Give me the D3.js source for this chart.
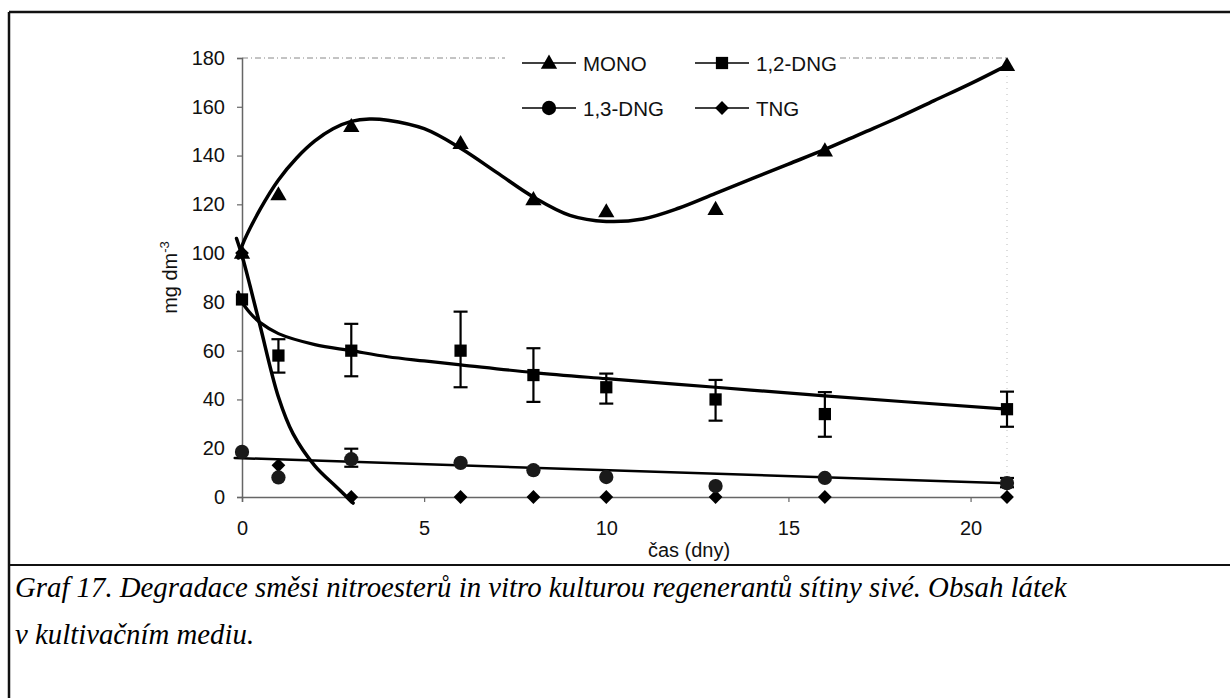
<!DOCTYPE html>
<html><head><meta charset="utf-8">
<script src="https://cdn.jsdelivr.net/npm/d3@7/dist/d3.min.js"></script>
<style>
html,body{margin:0;padding:0;background:#fff;}
svg{display:block;}
</style></head>
<body>
<svg id="chart" width="1230" height="698"></svg>
<script>
// ---- data ----
const days = [0, 1, 3, 6, 8, 10, 13, 16, 21];
const mono = [100, 124, 152, 145, 122, 117, 118, 142, 177];
const dng12 = [81, 58, 60, 60, 50, 45, 40, 34, 36];
const dng12Low = [null, 51, 49.5, 45, 39, 38.3, 31.3, 24.7, 28.8];
const dng12High = [null, 64.7, 71, 76, 61, 50.6, 48, 43, 43.2];
const dng13 = [18.5, 8, 15.5, 14, 11, 8.2, 4.5, 7.8, 5.7];
const dng13Low = [null, null, 12.4, null, null, null, null, null, 4];
const dng13High = [null, null, 19.8, null, null, null, null, null, 7.8];
const tng = [100, 13, 0, 0, 0, 0, 0, 0, 0];

// trend lines
const monoTrendX = [-0.1, 0, 0.5, 1, 1.5, 2, 2.5, 3, 3.5, 4, 5, 6, 7, 8, 9, 10, 11, 12, 13, 14, 15, 16, 17, 18, 19, 20, 21];
const monoTrendY = [98, 103, 118, 130, 139, 146, 151, 154, 155, 154.5, 151, 143, 133, 123, 115.5, 113, 114, 118.5, 124.5, 130.5, 136.5, 142.5, 149, 155.5, 162.5, 169.5, 177];
const dng12TrendX = [-0.1, 0, 0.25, 0.5, 1, 2, 3, 4, 5, 6, 8, 10, 13, 16, 21];
const dng12TrendY = [84, 80, 75, 71.5, 67, 62.5, 60, 57.5, 55.8, 54.2, 51, 48.5, 45, 41.5, 36];
const tngTrendX = [-0.15, 0, 0.22, 0.5, 1, 1.4, 2, 2.6, 3.05];
const tngTrendY = [106, 99, 86.6, 70, 41, 26, 12.8, 4, -2.5];
const dng13TrendX = [-0.2, 21];
const dng13TrendY = [16, 5.6];

const yTicks = [0, 20, 40, 60, 80, 100, 120, 140, 160, 180];
const xTicks = [0, 5, 10, 15, 20];
const legendNames = ["MONO", "1,2-DNG", "1,3-DNG", "TNG"];
const captionLines = [
  "Graf 17. Degradace směsi nitroesterů in vitro kulturou regenerantů sítiny sivé. Obsah látek",
  "v kultivačním mediu."
];

// ---- drawing ----
const svg = d3.select("#chart");
const sans = "'Liberation Sans', Arial, sans-serif";
const x = d3.scaleLinear().domain([0, 21]).range([242, 1007]);
const y = d3.scaleLinear().domain([0, 180]).range([497, 58]);

// outer frame
svg.append("line").attr("x1", 9).attr("x2", 1230).attr("y1", 12).attr("y2", 12).attr("stroke", "#111").attr("stroke-width", 2.5);
svg.append("line").attr("x1", 9).attr("x2", 9).attr("y1", 12).attr("y2", 698).attr("stroke", "#111").attr("stroke-width", 2.5);
svg.append("line").attr("x1", 9).attr("x2", 1230).attr("y1", 565).attr("y2", 565).attr("stroke", "#111").attr("stroke-width", 2);

// plot border (dotted top & right)
svg.append("line").attr("x1", x(0)).attr("x2", x(21)).attr("y1", y(180)).attr("y2", y(180))
  .attr("stroke", "#888").attr("stroke-width", 1).attr("stroke-dasharray", "6,3,1,3");
svg.append("line").attr("x1", x(21)).attr("x2", x(21)).attr("y1", y(180)).attr("y2", y(0))
  .attr("stroke", "#bbb").attr("stroke-width", 1).attr("stroke-dasharray", "1,5");

// axes
const yAxis = d3.axisLeft(y).tickValues(yTicks).tickSize(5).tickPadding(12);
const gy = svg.append("g").attr("transform", `translate(${x(0)},0)`).call(yAxis);
const xAxis = d3.axisBottom(x).tickValues(xTicks).tickSize(5).tickPadding(19);
const gx = svg.append("g").attr("transform", `translate(0,${y(0)})`).call(xAxis);
[gx, gy].forEach(g => {
  g.select(".domain").attr("stroke", "#666").attr("stroke-width", 1.5);
  g.selectAll(".tick line").attr("stroke", "#666").attr("stroke-width", 1.2);
  g.selectAll(".tick text").attr("fill", "#111").style("font-family", sans).style("font-size", "20px");
});

// axis titles
svg.append("text").attr("x", 689).attr("y", 557).attr("text-anchor", "middle")
  .style("font-family", sans).style("font-size", "20px").attr("fill", "#111").text("čas (dny)");
const yt = svg.append("text").attr("transform", `translate(177,${(y(0) + y(180)) / 2}) rotate(-90)`)
  .attr("text-anchor", "middle").style("font-family", sans).style("font-size", "20px").attr("fill", "#111");
yt.append("tspan").text("mg dm");
yt.append("tspan").attr("dy", -8).style("font-size", "13px").text("-3");

// trend lines
const lineGen = d3.line().x(d => x(d[0])).y(d => y(d[1])).curve(d3.curveCatmullRom.alpha(0.5));
function trend(xs, ys, w) {
  svg.append("path").datum(xs.map((v, i) => [v, ys[i]])).attr("d", lineGen)
    .attr("fill", "none").attr("stroke", "#000").attr("stroke-width", w).attr("stroke-linecap", "round");
}
trend(monoTrendX, monoTrendY, 3.5);
trend(dng12TrendX, dng12TrendY, 3.2);
trend(tngTrendX, tngTrendY, 3.5);
trend(dng13TrendX, dng13TrendY, 2.5);

// error bars
function errorBars(lo, hi) {
  const g = svg.append("g").attr("stroke", "#000").attr("stroke-width", 2.2);
  days.forEach((d, i) => {
    if (lo[i] == null) return;
    g.append("line").attr("x1", x(d)).attr("x2", x(d)).attr("y1", y(lo[i])).attr("y2", y(hi[i]));
    g.append("line").attr("x1", x(d) - 7).attr("x2", x(d) + 7).attr("y1", y(lo[i])).attr("y2", y(lo[i]));
    g.append("line").attr("x1", x(d) - 7).attr("x2", x(d) + 7).attr("y1", y(hi[i])).attr("y2", y(hi[i]));
  });
}
errorBars(dng12Low, dng12High);
errorBars(dng13Low, dng13High);

// markers
const sym = {
  tri: d3.symbol().type(d3.symbolTriangle).size(115),
  sq: d3.symbol().type(d3.symbolSquare).size(150),
  circ: d3.symbol().type(d3.symbolCircle).size(160),
  dia: d3.symbol().type(d3.symbolSquare).size(95)
};
function markerTransform(s, px, py) {
  return `translate(${px},${py + (s === "tri" ? 1 : 0)})` + (s === "dia" ? " rotate(45)" : "");
}
function markers(vals, s, fill) {
  svg.append("g").selectAll("path").data(days.map((d, i) => [d, vals[i]])).join("path")
    .attr("d", sym[s]).attr("fill", fill)
    .attr("transform", d => markerTransform(s, x(d[0]), y(d[1])));
}
markers(tng, "dia", "#000");
markers(dng13, "circ", "#1a1a1a");
markers(dng12, "sq", "#000");
markers(mono, "tri", "#000");

// legend
const leg = svg.append("g");
leg.append("rect").attr("x", 505).attr("y", 44).attr("width", 335).attr("height", 82).attr("fill", "#fff");
const legItems = [
  { name: legendNames[0], s: "tri", lx: 522, ly: 63 },
  { name: legendNames[1], s: "sq", lx: 695, ly: 63 },
  { name: legendNames[2], s: "circ", lx: 522, ly: 108 },
  { name: legendNames[3], s: "dia", lx: 695, ly: 108 }
];
legItems.forEach(it => {
  leg.append("line").attr("x1", it.lx).attr("x2", it.lx + 54).attr("y1", it.ly).attr("y2", it.ly)
    .attr("stroke", "#000").attr("stroke-width", 1.5);
  leg.append("path").attr("d", sym[it.s]).attr("fill", "#000")
    .attr("transform", markerTransform(it.s, it.lx + 27, it.ly));
  leg.append("text").attr("x", it.lx + 61).attr("y", it.ly + 7.5)
    .style("font-family", sans).style("font-size", "20.5px").attr("fill", "#111").text(it.name);
});

// caption
captionLines.forEach((t, i) => {
  svg.append("text").attr("x", 15).attr("y", 597 + i * 47)
    .style("font-family", "'Liberation Serif', 'Times New Roman', serif").style("font-style", "italic")
    .style("font-size", "28.8px").attr("fill", "#000").text(t);
});
</script>
</body></html>
